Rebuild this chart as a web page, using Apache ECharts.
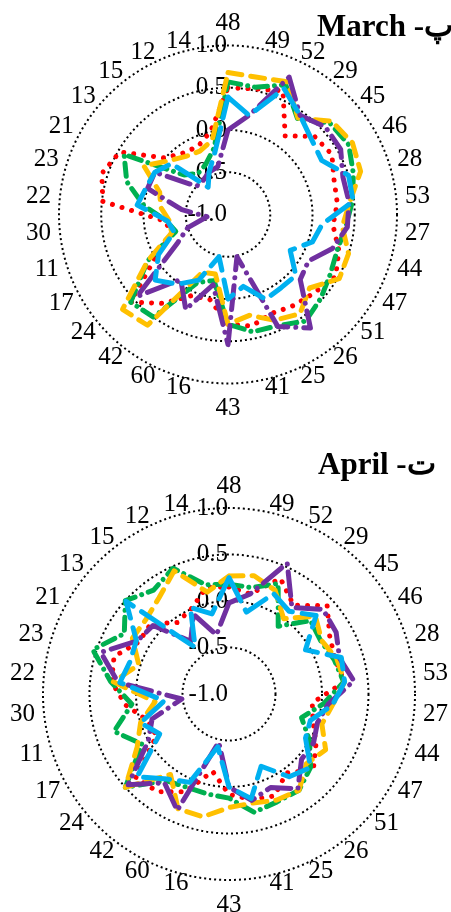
<!DOCTYPE html>
<html>
<head>
<meta charset="utf-8">
<script src="https://cdn.jsdelivr.net/npm/echarts@6/dist/echarts.min.js"></script>
<style>
html,body{margin:0;padding:0;background:#fff;}
#chart{width:451px;height:912px;}
</style>
</head>
<body>
<div id="chart"></div>
<script>
// category labels, clockwise from the top
var cats = ['48','49','52','29','45','46','28','53','27','44','47','51','26','25','41',
            '43','16','60','42','24','17','11','30','22','23','21','13','15','12','14'];
var rTicks = [-1.0, -0.5, 0.0, 0.5, 1.0];

// March (پ)
var marchRed    = [0.5, 0.52, 0.6, 0.15, 0.38, 0.42, 0.32, 0.3, 0.25, 0.38, 0.47, 0.38, 0.33, 0.28, 0.35, 0.3, 0.03, 0.05, 0.3, 0.55, -0.02, -0.3, -0.25, 0.49, 0.57, 0.48, 0.0, -0.1, -0.12, 0.0];
var marchGreen  = [0.57, 0.54, 0.68, 0.4, 0.62, 0.65, 0.56, 0.48, 0.4, 0.36, 0.4, 0.48, 0.56, 0.44, 0.42, 0.3, -0.2, -0.12, 0.5, 0.55, 0.1, -0.35, -0.27, 0.0, 0.26, 0.42, -0.3, -0.4, -0.35, -0.2];
var marchOrange = [0.68, 0.66, 0.72, 0.41, 0.65, 0.7, 0.65, 0.45, 0.36, 0.5, 0.52, 0.3, 0.45, 0.37, 0.22, 0.3, -0.28, -0.25, 0.62, 0.68, 0.1, -0.3, -0.3, -0.2, -0.15, 0.15, -0.05, -0.15, -0.18, -0.1];
var marchPurple = [0.0, 0.2, 0.78, 0.45, 0.55, 0.54, 0.43, 0.44, 0.42, 0.3, 0.1, 0.15, 0.66, 0.45, -0.49, 0.54, -0.15, 0.23, -0.05, 0.45, -0.3, -0.5, -0.75, -0.45, 0.0, 0.0, -0.5, -0.5, -0.45, -0.42];
var marchBlue   = [0.39, 0.2, 0.63, 0.45, 0.33, 0.28, 0.5, 0.49, 0.12, 0.05, -0.15, 0.08, 0.07, 0.1, -0.13, 0.0, -0.49, -0.15, 0.02, 0.16, -0.05, -0.33, -0.28, 0.08, 0.02, 0.0, -0.1, -0.6, -0.45, -0.25];

// April (ت)
var aprilRed    = [0.15, 0.1, 0.36, 0.18, 0.42, 0.25, 0.2, 0.25, -0.1, -0.05, 0.08, 0.22, 0.05, 0.2, 0.16, 0.08, -0.15, 0.15, 0.3, 0.35, -0.1, -0.08, 0.12, 0.27, 0.3, 0.12, 0.13, -0.05, 0.0, 0.17];
var aprilGreen  = [0.18, 0.17, 0.3, -0.1, 0.18, 0.14, 0.19, 0.24, 0.02, -0.18, 0.0, 0.18, 0.28, 0.27, 0.3, 0.12, 0.1, 0.1, 0.15, 0.5, 0.08, 0.3, 0.05, 0.28, 0.54, 0.3, 0.5, 0.38, 0.48, 0.2];
var aprilOrange = [0.27, 0.3, 0.22, 0.0, 0.25, 0.15, 0.22, 0.25, 0.12, 0.05, 0.2, 0.12, 0.28, 0.25, 0.2, 0.22, 0.35, 0.35, 0.07, 0.5, 0.14, 0.0, -0.2, 0.25, 0.02, 0.2, 0.2, 0.28, 0.45, 0.12];
var aprilPurple = [-0.02, 0.1, 0.54, 0.15, 0.36, 0.33, 0.25, 0.35, 0.07, 0.0, 0.05, 0.05, 0.26, 0.1, 0.17, 0.0, -0.47, 0.37, 0.18, 0.46, 0.0, -0.13, -0.49, 0.2, 0.45, 0.14, 0.1, -0.3, -0.06, -0.35];
var aprilBlue   = [0.25, -0.1, 0.18, 0.1, 0.26, -0.05, 0.27, 0.25, 0.12, -0.08, -0.05, 0.18, 0.1, -0.15, 0.15, 0.0, -0.42, 0.04, 0.13, 0.33, -0.14, 0.0, -0.3, 0.18, 0.12, 0.15, 0.49, -0.38, 0.02, -0.12];

var myChart = echarts.init(document.getElementById('chart'));

// line looks (drawn in this order, last on top)
var looks = [
    {color: '#FF0000', dash: [0.01, 10]},
    {color: '#00B050', dash: [13, 7, 0.01, 7]},
    {color: '#FFC000', dash: [14, 9]},
    {color: '#7030A0', dash: [24, 8, 0.01, 8]},
    {color: '#00B0F0', dash: [26, 10]}
];
var groups = [
    [marchRed, marchGreen, marchOrange, marchPurple, marchBlue],
    [aprilRed, aprilGreen, aprilOrange, aprilPurple, aprilBlue]
];

// pairs [radius, angle]; the first point is repeated at the end to close the ring
function ring(vals) {
    var d = [];
    for (var i = 0; i < vals.length; i++) d.push([vals[i], i]);
    d.push([vals[0], vals.length]);
    return d;
}

var font = 'Liberation Serif';
var fs = 25, lh = 25, lm = -30;

// echarts aligns angle labels by quadrant; paddings move each one to
// sit like the original (side labels hugging the ring, vertically centred)
function labelRich(R) {
    var rich = {};
    var f = (R + lm) / R;
    for (var i = 0; i < cats.length; i++) {
        var a = i * 2 * Math.PI / cats.length;
        var s = Math.sin(a), c = Math.cos(a);
        var w = cats[i].length * fs / 2;
        var pt = 0, pr = 0, pb = 0, pl = 0;
        if (Math.abs(s) > 0.05) {
            if (f * Math.abs(s) < 0.3) {
                if (s > 0) pl = 2 * (9 - lm) * s + w; else pr = 2 * (9 - lm) * -s + w;
            } else {
                if (s > 0) pl = (9 - lm) * s; else pr = (9 - lm) * -s;
            }
        }
        if (Math.abs(c) > 0.99) {
            if (c > 0) pb = 22 - lm - lh / 2; else pt = 25 - lm - lh / 2;
        } else if (f * Math.abs(c) < 0.3) {
            if (c > 0) pb = 2 * (8 - lm) * c; else pt = 2 * (8 - lm) * -c;
        } else {
            if (c > 0) pb = (8 - lm) * c - lh / 2; else pt = (8 - lm) * -c - lh / 2;
        }
        rich['a' + i] = {
            fontFamily: font, fontSize: fs, color: '#000',
            padding: [Math.max(pt, 0), Math.max(pr, 0), Math.max(pb, 0), Math.max(pl, 0)]
        };
    }
    return rich;
}

var polars = [], angleAxes = [], radiusAxes = [], series = [];
var centers = [[228, 214.5], [229, 694]];
var radii = [169, 186];

for (var k = 0; k < 2; k++) {
    polars.push({center: centers[k], radius: radii[k]});
    angleAxes.push({
        polarIndex: k,
        type: 'value',
        min: 0,
        max: cats.length,
        interval: 1,
        startAngle: 90,
        clockwise: true,
        axisLine: {show: false},
        axisTick: {show: false},
        splitLine: {show: false},
        axisLabel: {
            margin: lm,
            fontFamily: font,
            fontSize: fs,
            color: '#000',
            formatter: function (v) { return v < cats.length ? '{a' + v + '|' + cats[v] + '}' : ''; },
            rich: labelRich(radii[k])
        }
    });
    radiusAxes.push({
        polarIndex: k,
        type: 'value',
        min: rTicks[0],
        max: rTicks[rTicks.length - 1],
        interval: 0.5,
        axisLine: {show: false},
        axisTick: {show: false},
        splitLine: {show: true, lineStyle: {color: '#000', width: 2, type: [2, 3]}},
        axisLabel: {
            margin: 1,
            fontFamily: font,
            fontSize: fs,
            color: '#000',
            formatter: function (v) { return v.toFixed(1); }
        }
    });
    for (var s = 0; s < looks.length; s++) {
        series.push({
            type: 'line',
            coordinateSystem: 'polar',
            polarIndex: k,
            symbol: 'none',
            silent: true,
            data: ring(groups[k][s]),
            lineStyle: {
                color: looks[s].color,
                width: 5,
                type: looks[s].dash,
                cap: 'round',
                join: 'round'
            }
        });
    }
}

option = {
    backgroundColor: '#fff',
    animation: false,
    title: [
        {text: 'March -پ', left: 312, top: 7,
         textStyle: {fontFamily: font, fontWeight: 'bold', fontSize: 31, color: '#000'}},
        {text: 'April -ت', left: 313, top: 445,
         textStyle: {fontFamily: font, fontWeight: 'bold', fontSize: 31, color: '#000'}}
    ],
    polar: polars,
    angleAxis: angleAxes,
    radiusAxis: radiusAxes,
    series: series
};

myChart.setOption(option);
</script>
</body>
</html>
